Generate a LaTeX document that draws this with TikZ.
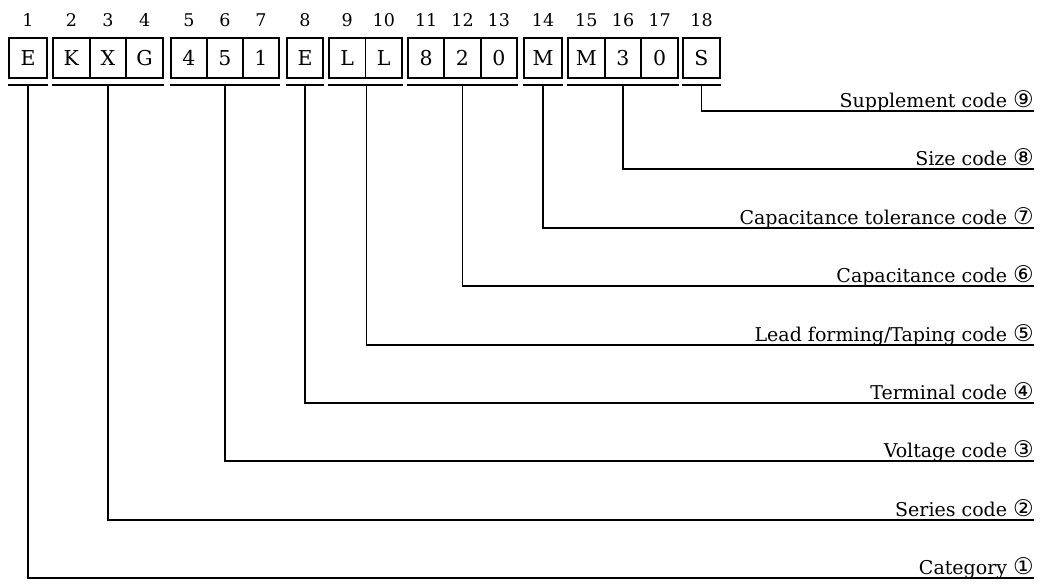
\documentclass[tikz,border=0pt]{standalone}
\usepackage{fontspec}
\setmainfont{DejaVu Serif}
\newfontfamily\symf{DejaVu Sans}
\newcommand{\circd}[1]{{\symf\fontsize{23}{23}\selectfont #1}}
\begin{document}
\begin{tikzpicture}[x=1pt,y=-1pt,
  cell/.style={draw, line width=1.9pt, minimum height=40pt, inner sep=0pt, font=\fontsize{20.5}{24}\selectfont},
  num/.style={anchor=base, inner sep=0pt, font=\fontsize{17.5}{20}\selectfont},
  lab/.style={anchor=base east, inner sep=0pt, font=\fontsize{19}{22}\selectfont},
  wire/.style={line width=1.9pt}]
\useasboundingbox (0,0) rectangle (1040,585);
% cells
\node[cell, minimum width=38pt] (c1) at (28,58) {E};
\node[cell, minimum width=36.67pt] (c2) at (71.33,58) {K};
\node[cell, minimum width=36.67pt] (c3) at (108,58) {X};
\node[cell, minimum width=36.67pt] (c4) at (144.67,58) {G};
\node[cell, minimum width=36pt] (c5) at (189,58) {4};
\node[cell, minimum width=36pt] (c6) at (225,58) {5};
\node[cell, minimum width=36pt] (c7) at (261,58) {1};
\node[cell, minimum width=36pt] (c8) at (305,58) {E};
\node[cell, minimum width=36.5pt] (c9) at (347.25,58) {L};
\node[cell, minimum width=36.5pt] (c10) at (383.75,58) {L};
\node[cell, minimum width=36.33pt] (c11) at (426.17,58) {8};
\node[cell, minimum width=36.33pt] (c12) at (462.5,58) {2};
\node[cell, minimum width=36.33pt] (c13) at (498.83,58) {0};
\node[cell, minimum width=38pt] (c14) at (543,58) {M};
\node[cell, minimum width=36.67pt] (c15) at (586.33,58) {M};
\node[cell, minimum width=36.67pt] (c16) at (623,58) {3};
\node[cell, minimum width=36.67pt] (c17) at (659.67,58) {0};
\node[cell, minimum width=37pt] (c18) at (701.5,58) {S};
% position numbers
\foreach \i in {1,...,18} {
  \node[num] (n\i) at ([yshift=11pt]c\i.north) {\i};
}
% underlines
\draw[wire] ([yshift=-6pt]c1.south west) -- ([yshift=-6pt]c1.south east);
\draw[wire] ([yshift=-6pt]c2.south west) -- ([yshift=-6pt]c4.south east);
\draw[wire] ([yshift=-6pt]c5.south west) -- ([yshift=-6pt]c7.south east);
\draw[wire] ([yshift=-6pt]c8.south west) -- ([yshift=-6pt]c8.south east);
\draw[wire] ([yshift=-6pt]c9.south west) -- ([yshift=-6pt]c10.south east);
\draw[wire] ([yshift=-6pt]c11.south west) -- ([yshift=-6pt]c13.south east);
\draw[wire] ([yshift=-6pt]c14.south west) -- ([yshift=-6pt]c14.south east);
\draw[wire] ([yshift=-6pt]c15.south west) -- ([yshift=-6pt]c17.south east);
\draw[wire] ([yshift=-6pt]c18.south west) -- ([yshift=-6pt]c18.south east);
% underline centres
\coordinate (u1) at ([yshift=-6pt]c1.south);
\coordinate (u2) at ([yshift=-6pt]c3.south);
\coordinate (u3) at ([yshift=-6pt]c6.south);
\coordinate (u4) at ([yshift=-6pt]c8.south);
\coordinate (u5) at ([yshift=-6pt]c9.south east);
\coordinate (u6) at ([yshift=-6pt]c12.south);
\coordinate (u7) at ([yshift=-6pt]c14.south);
\coordinate (u8) at ([yshift=-6pt]c16.south);
\coordinate (u9) at ([yshift=-6pt]c18.south);
% line ends
\coordinate (e9) at (1034,111);
\coordinate (e8) at (1034,169);
\coordinate (e7) at (1034,228);
\coordinate (e6) at (1034,286);
\coordinate (e5) at (1034,345);
\coordinate (e4) at (1034,403);
\coordinate (e3) at (1034,461);
\coordinate (e2) at (1034,520);
\coordinate (e1) at (1034,578);
% labels
\node[lab] (l9) at ([yshift=3.5pt]e9) {Supplement code \circd{⑨}};
\node[lab] (l8) at ([yshift=3.5pt]e8) {Size code \circd{⑧}};
\node[lab] (l7) at ([yshift=3.5pt]e7) {Capacitance tolerance code \circd{⑦}};
\node[lab] (l6) at ([yshift=3.5pt]e6) {Capacitance code \circd{⑥}};
\node[lab] (l5) at ([yshift=3.5pt]e5) {Lead forming/Taping code \circd{⑤}};
\node[lab] (l4) at ([yshift=3.5pt]e4) {Terminal code \circd{④}};
\node[lab] (l3) at ([yshift=3.5pt]e3) {Voltage code \circd{③}};
\node[lab] (l2) at ([yshift=3.5pt]e2) {Series code \circd{②}};
\node[lab] (l1) at ([yshift=3.5pt]e1) {Category \circd{①}};
% connectors
\foreach \i in {1,...,9} {
  \draw[wire] (u\i) |- (e\i);
}
\end{tikzpicture}
\end{document}
